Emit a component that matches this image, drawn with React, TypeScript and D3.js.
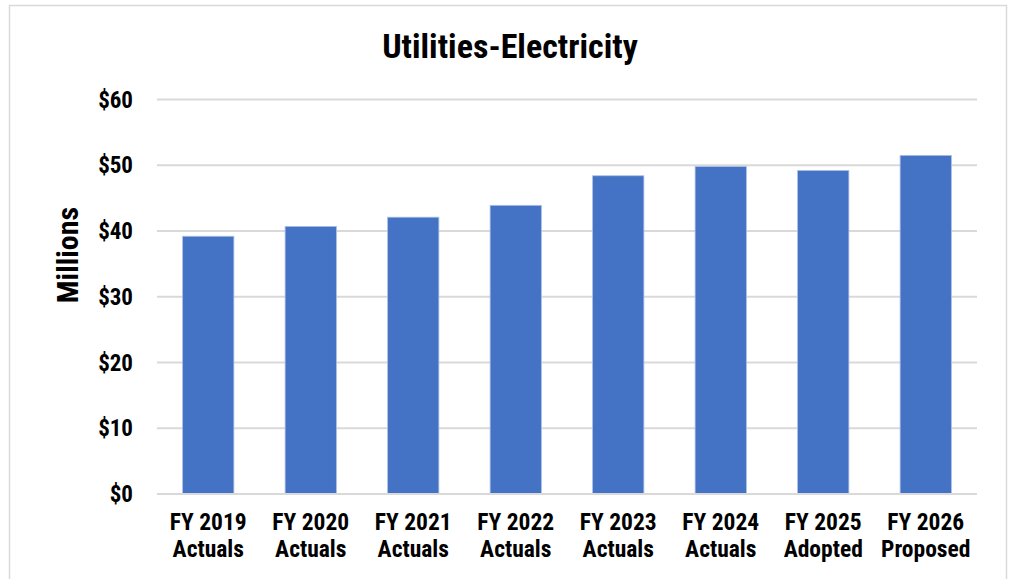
import React from "react";
import * as d3 from "d3";

const categories: string[][] = [
  ["FY 2019", "Actuals"],
  ["FY 2020", "Actuals"],
  ["FY 2021", "Actuals"],
  ["FY 2022", "Actuals"],
  ["FY 2023", "Actuals"],
  ["FY 2024", "Actuals"],
  ["FY 2025", "Adopted"],
  ["FY 2026", "Proposed"],
];
const values: number[] = [39.2, 40.7, 42.1, 43.9, 48.4, 49.8, 49.2, 51.5];
const yTicks: number[] = [0, 10, 20, 30, 40, 50, 60];
const title = "Utilities-Electricity";
const yTitle = "Millions";

const W = 1017;
const H = 579;
const FONT = "'Liberation Sans Narrow', 'Arial Narrow', 'Roboto Condensed', 'Liberation Sans', Arial, sans-serif";

export default function App() {
  const left = 157;
  const right = 977;
  const top = 99.5;
  const bottom = 494;
  const keys = categories.map((c) => c.join(" "));
  const x = d3.scaleBand<string>().domain(keys).range([left, right]).paddingInner(0.5).paddingOuter(0.25);
  const y = d3.scaleLinear().domain([0, 60]).range([bottom, top]);

  return (
    <svg width={W} height={H} style={{ position: "absolute", left: 0, top: 0, background: "#fff" }} fontFamily={FONT}>
      <rect x={9.5} y={5.5} width={997} height={H + 10} fill="#fff" stroke="#d9d9d9" strokeWidth={1.5} />
      <text x={510} y={58} textAnchor="middle" fontSize={34} fontWeight="bold" fill="#000">
        {title}
      </text>
      {yTicks.map((t) => (
        <g key={t}>
          <line x1={left} x2={right} y1={y(t)} y2={y(t)} stroke="#d9d9d9" strokeWidth={2} />
          <text x={133} y={y(t)} dy="0.35em" textAnchor="end" fontSize={23} fontWeight="bold" fill="#000">
            {`$${t}`}
          </text>
        </g>
      ))}
      <text
        transform={`translate(78, 255) rotate(-90)`}
        textAnchor="middle"
        fontSize={30}
        fontWeight="bold"
        fill="#000"
      >
        {yTitle}
      </text>
      {values.map((v, i) => (
        <rect
          key={keys[i]}
          x={x(keys[i])}
          y={y(v)}
          width={x.bandwidth()}
          height={y(0) - y(v)}
          fill="#4472C4"
          stroke="#a8bfe6"
          strokeWidth={0.8}
        />
      ))}
      <line x1={left} x2={right} y1={y(0)} y2={y(0)} stroke="#d9d9d9" strokeWidth={2} />
      {categories.map((c, i) => (
        <text
          key={keys[i]}
          x={(x(keys[i]) as number) + x.bandwidth() / 2}
          y={530}
          textAnchor="middle"
          fontSize={23.5}
          fontWeight="bold"
          fill="#000"
        >
          <tspan x={(x(keys[i]) as number) + x.bandwidth() / 2} y={530}>{c[0]}</tspan>
          <tspan x={(x(keys[i]) as number) + x.bandwidth() / 2} y={556.5}>{c[1]}</tspan>
        </text>
      ))}
    </svg>
  );
}
